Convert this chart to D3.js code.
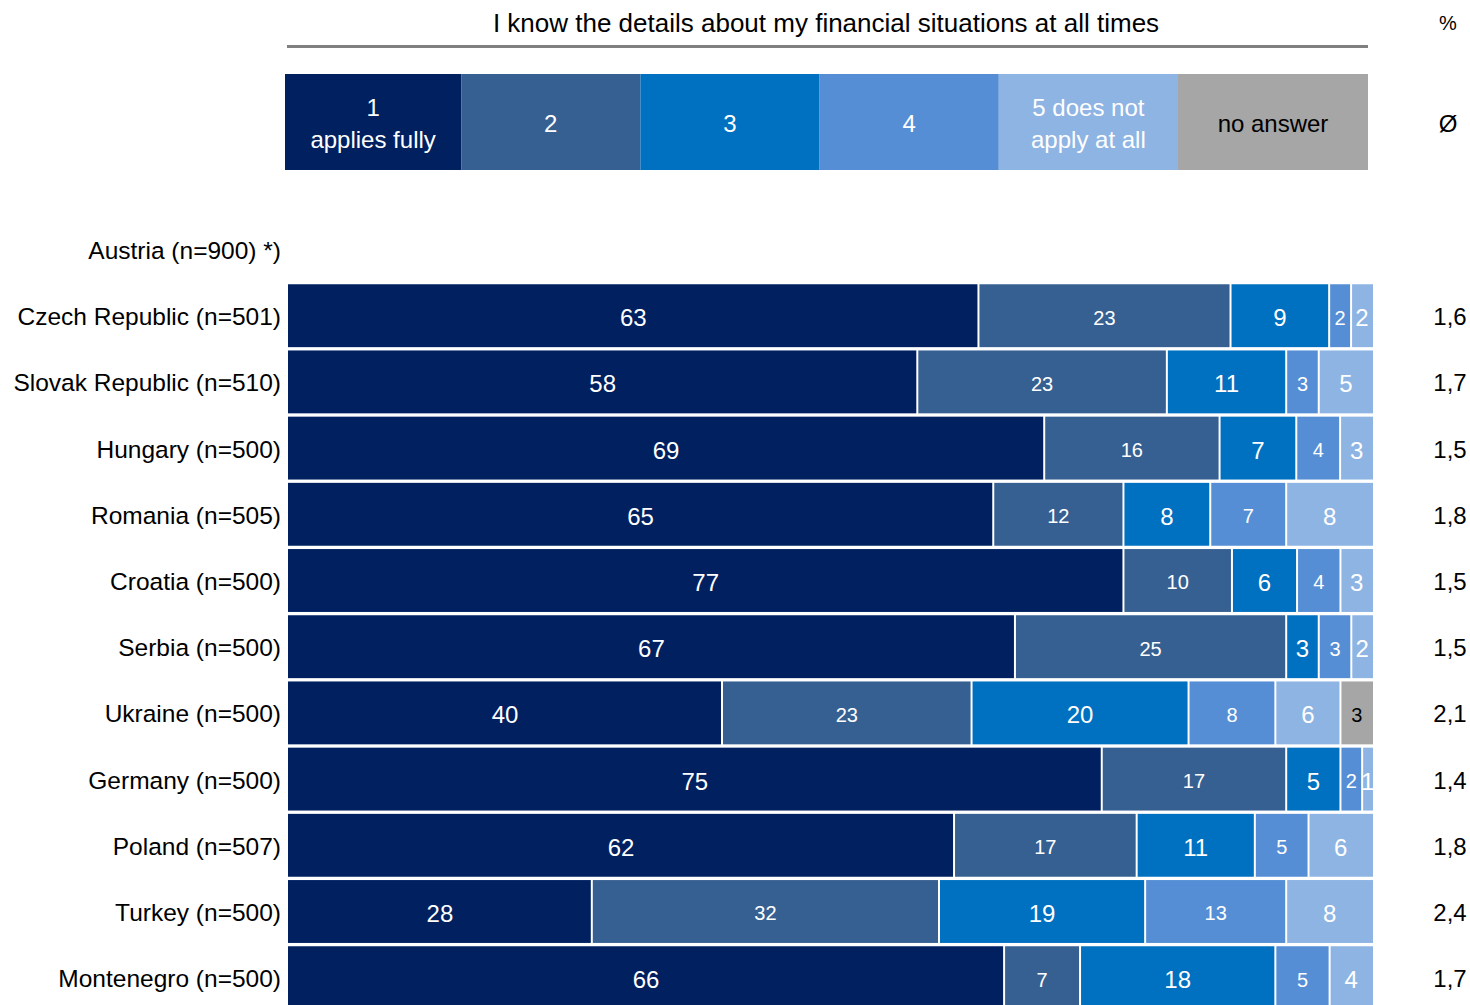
<!DOCTYPE html>
<html>
<head>
<meta charset="utf-8">
<script src="https://cdn.jsdelivr.net/npm/d3@7"></script>
<style>
  html, body { margin: 0; padding: 0; background: #fff; }
  svg { display: block; font-family: "Liberation Sans", Arial, sans-serif; }
</style>
</head>
<body>
<svg id="chart" width="1470" height="1005"></svg>
<script>
// Survey question and answer scale
const title = "I know the details about my financial situations at all times";
const answerKeys = ["1", "2", "3", "4", "5", "na"];
const answerLabels = [["1", "applies fully"], ["2"], ["3"], ["4"], ["5 does not", "apply at all"], ["no answer"]];
const answerColors = ["#002060", "#376092", "#0070C0", "#558ED5", "#8EB4E3", "#A6A6A6"];

// Countries (Austria has no bar)
const countries = [
  "Austria (n=900) *)", "Czech Republic (n=501)", "Slovak Republic (n=510)", "Hungary (n=500)",
  "Romania (n=505)", "Croatia (n=500)", "Serbia (n=500)", "Ukraine (n=500)",
  "Germany (n=500)", "Poland (n=507)", "Turkey (n=500)", "Montenegro (n=500)"
];

// Shares in % per answer
const applies1 = [null, 63, 58, 69, 65, 77, 67, 40, 75, 62, 28, 66];
const answer2  = [null, 23, 23, 16, 12, 10, 25, 23, 17, 17, 32, 7];
const answer3  = [null, 9, 11, 7, 8, 6, 3, 20, 5, 11, 19, 18];
const answer4  = [null, 2, 3, 4, 7, 4, 3, 8, 2, 5, 13, 5];
const notAt5   = [null, 2, 5, 3, 8, 3, 2, 6, 1, 6, 8, 4];
const noAnswer = [null, 0, 0, 0, 0, 0, 0, 3, 0, 0, 0, 0];

// Mean score (Ø)
const means = ["", "1,6", "1,7", "1,5", "1,8", "1,5", "1,5", "2,1", "1,4", "1,8", "2,4", "1,7"];

const series = [applies1, answer2, answer3, answer4, notAt5, noAnswer];

const rows = countries.map((c, i) => {
  const vals = series.map(s => s[i]);
  return { country: c, mean: means[i], vals: vals[0] == null ? null : vals };
});

const svg = d3.select("#chart");

// ---- header: title, rule, symbols
svg.append("text")
  .attr("x", 826).attr("y", 23)
  .attr("text-anchor", "middle").attr("dominant-baseline", "central")
  .attr("font-size", 26).attr("fill", "#000")
  .text(title);

svg.append("line")
  .attr("x1", 287).attr("x2", 1368).attr("y1", 46.5).attr("y2", 46.5)
  .attr("stroke", "#808080").attr("stroke-width", 3);

svg.append("text")
  .attr("x", 1448).attr("y", 23)
  .attr("text-anchor", "middle").attr("dominant-baseline", "central")
  .attr("font-size", 20).text("%");

svg.append("text")
  .attr("x", 1448).attr("y", 123)
  .attr("text-anchor", "middle").attr("dominant-baseline", "central")
  .attr("font-size", 24).text("Ø");

// ---- legend boxes
const legendStep = 179.2, legendStart = 282;
const legend = svg.append("g");
answerKeys.forEach((k, i) => {
  const x0 = i === 0 ? 285 : legendStart + i * legendStep;
  const x1 = i === answerKeys.length - 1 ? 1368 : legendStart + (i + 1) * legendStep;
  legend.append("rect")
    .attr("x", x0).attr("y", 74).attr("width", x1 - x0).attr("height", 96)
    .attr("fill", answerColors[i]);
  const lines = answerLabels[i];
  const t = legend.append("text")
    .attr("text-anchor", "middle")
    .attr("font-size", 24)
    .attr("fill", k === "na" ? "#000" : "#fff");
  lines.forEach((ln, j) => {
    t.append("tspan")
      .attr("x", (x0 + x1) / 2)
      .attr("y", 123 + (j - (lines.length - 1) / 2) * 32)
      .attr("dominant-baseline", "central")
      .text(ln);
  });
});

// ---- bars
const y = d3.scaleBand()
  .domain(countries)
  .range([216.4, 216.4 + 12 * 66.2])
  .paddingInner(0.05)
  .paddingOuter(0.025);

const xLeft = 288, xRight = 1373;

// country labels
svg.append("g").selectAll("text")
  .data(rows).join("text")
  .attr("x", 281)
  .attr("y", d => y(d.country) + y.bandwidth() / 2 + 1)
  .attr("text-anchor", "end").attr("dominant-baseline", "central")
  .attr("font-size", 24.5).attr("fill", "#000")
  .text(d => d.country);

// mean column
svg.append("g").selectAll("text")
  .data(rows).join("text")
  .attr("x", 1450)
  .attr("y", d => y(d.country) + y.bandwidth() / 2 + 1)
  .attr("text-anchor", "middle").attr("dominant-baseline", "central")
  .attr("font-size", 24).attr("fill", "#000")
  .text(d => d.mean);

const barG = svg.append("g");
rows.filter(r => r.vals).forEach(r => {
  const total = d3.sum(r.vals);
  const x = d3.scaleLinear().domain([0, total]).range([xLeft, xRight]);
  const stack = [];
  let acc = 0;
  r.vals.forEach((v, i) => {
    if (v > 0) stack.push({ i, v, a: acc, b: acc + v });
    acc += v;
  });
  const g = barG.append("g").attr("transform", `translate(0,${y(r.country)})`);
  g.selectAll("rect")
    .data(stack).join("rect")
    .attr("x", d => x(d.a) + (d.a > 0 ? 1 : 0))
    .attr("y", 0)
    .attr("width", d => x(d.b) - x(d.a) - (d.a > 0 ? 1 : 0) - (d.b < total ? 1 : 0))
    .attr("height", y.bandwidth())
    .attr("fill", d => answerColors[d.i]);
  g.selectAll("text")
    .data(stack).join("text")
    .attr("x", d => (x(d.a) + x(d.b)) / 2)
    .attr("y", y.bandwidth() / 2 + 2)
    .attr("text-anchor", "middle").attr("dominant-baseline", "central")
    .attr("font-size", d => (d.i === 1 || d.i === 3 || d.i === 5) ? 20 : 24)
    .attr("fill", d => d.i === 5 ? "#000" : "#fff")
    .text(d => d.v);
});
</script>
</body>
</html>
